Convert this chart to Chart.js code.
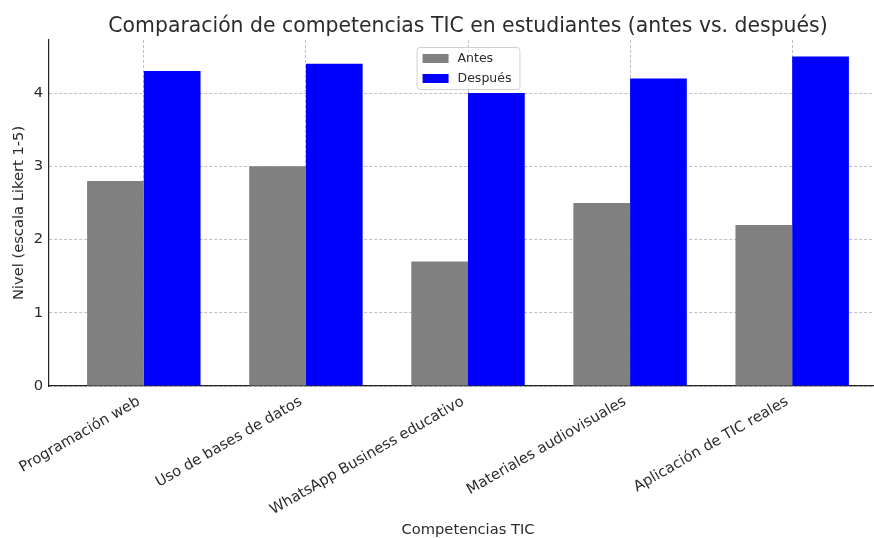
<!DOCTYPE html>
<html lang="es">
<head>
<meta charset="utf-8">
<title>Competencias TIC</title>
<script src="https://cdn.jsdelivr.net/npm/chart.js@4.4.1/dist/chart.umd.min.js"></script>
<style>
  html, body { margin: 0; padding: 0; background: #fff; overflow: hidden; }
  #wrap { width: 874px; height: 538px; overflow: hidden; }
</style>
</head>
<body>
<div id="wrap">
  <canvas id="chart" width="887" height="538"></canvas>
</div>
<script>
const categories = [
  "Programación web",
  "Uso de bases de datos",
  "WhatsApp Business educativo",
  "Materiales audiovisuales",
  "Aplicación de TIC reales"
];
const antes = [2.8, 3.0, 1.7, 2.5, 2.2];
const despues = [4.3, 4.4, 4.0, 4.2, 4.5];
const yTicks = [0, 1, 2, 3, 4];

const FONT = "'DejaVu Sans', sans-serif";
const TEXT = "#2b2b2b";
const GRID = "rgba(176,176,176,0.8)";

// bars sit on a numeric x axis so the side margins can follow the data range
const toPoints = vals => vals.map((v, i) => ({ x: i, y: v }));

// legend box drawn inside the plot, top centre
const innerLegend = {
  id: "innerLegend",
  afterDraw(chart) {
    const ctx = chart.ctx;
    const area = chart.chartArea;
    const sets = chart.data.datasets;
    ctx.save();
    ctx.font = "12.5px " + FONT;
    let textW = 0;
    sets.forEach(ds => { textW = Math.max(textW, ctx.measureText(ds.label).width); });
    const w = 41 + textW + 8;
    const h = 42;
    const x = (area.left + area.right) / 2 - w / 2;
    const y = area.top + 7;
    ctx.beginPath();
    ctx.roundRect(x + 0.5, y + 0.5, w, h, 3);
    ctx.fillStyle = "rgba(255,255,255,0.85)";
    ctx.fill();
    ctx.strokeStyle = "#d0d0d0";
    ctx.lineWidth = 1;
    ctx.stroke();
    sets.forEach((ds, i) => {
      const cy = y + 11.5 + i * 20;
      ctx.fillStyle = ds.backgroundColor;
      ctx.fillRect(x + 6, cy - 4.5, 26, 9);
      ctx.fillStyle = TEXT;
      ctx.textBaseline = "middle";
      ctx.textAlign = "left";
      ctx.fillText(ds.label, x + 41, cy);
    });
    ctx.restore();
  }
};

new Chart(document.getElementById("chart"), {
  type: "bar",
  data: {
    datasets: [
      { label: "Antes", data: toPoints(antes), backgroundColor: "#808080", borderWidth: 0 },
      { label: "Después", data: toPoints(despues), backgroundColor: "#0000ff", borderWidth: 0 }
    ]
  },
  options: {
    responsive: false,
    animation: false,
    devicePixelRatio: 1,
    categoryPercentage: 0.7,
    barPercentage: 1.0,
    layout: { padding: 0 },
    plugins: {
      legend: { display: false },
      tooltip: { enabled: false },
      title: {
        display: true,
        fullSize: false,
        text: "Comparación de competencias TIC en estudiantes (antes vs. después)",
        color: TEXT,
        font: { family: FONT, size: 20.4, weight: "normal", lineHeight: 1.2 },
        padding: { top: 14, bottom: 1.5 }
      }
    },
    scales: {
      x: {
        type: "linear",
        min: -0.585,
        max: 4.585,
        offset: false,
        z: 1,
        afterBuildTicks: axis => { axis.ticks = categories.map((c, i) => ({ value: i })); },
        afterFit: axis => { axis.height = 152; axis.paddingLeft = 0; axis.paddingRight = 0; },
        grid: {
          offset: false,
          color: GRID,
          lineWidth: 1,
          tickLength: 4,
          tickColor: "rgba(0,0,0,0)"
        },
        border: { display: true, color: "#222", width: 1.2, dash: [3, 2] },
        ticks: {
          autoSkip: false,
          minRotation: 30,
          maxRotation: 30,
          padding: 3,
          labelOffset: -5,
          color: TEXT,
          font: { family: FONT, size: 14.7 },
          callback: v => categories[v]
        },
        title: {
          display: true,
          text: "Competencias TIC",
          color: TEXT,
          font: { family: FONT, size: 14.7, lineHeight: 1 },
          padding: { top: 0, bottom: 0 }
        }
      },
      y: {
        min: 0,
        max: 4.725,
        z: 1,
        afterBuildTicks: axis => { axis.ticks = yTicks.map(v => ({ value: v })); },
        afterFit: axis => { axis.width = 49; },
        grid: {
          color: GRID,
          lineWidth: 1,
          tickLength: 4,
          tickColor: "rgba(0,0,0,0)"
        },
        border: { display: true, color: "#222", width: 1.2, dash: [3, 2] },
        ticks: {
          padding: 2,
          color: TEXT,
          font: { family: FONT, size: 14.7 }
        },
        title: {
          display: true,
          text: "Nivel (escala Likert 1-5)",
          color: TEXT,
          font: { family: FONT, size: 14.7, lineHeight: 1.2 },
          padding: { top: 10, bottom: 0 }
        }
      }
    }
  },
  plugins: [innerLegend]
});
</script>
</body>
</html>
